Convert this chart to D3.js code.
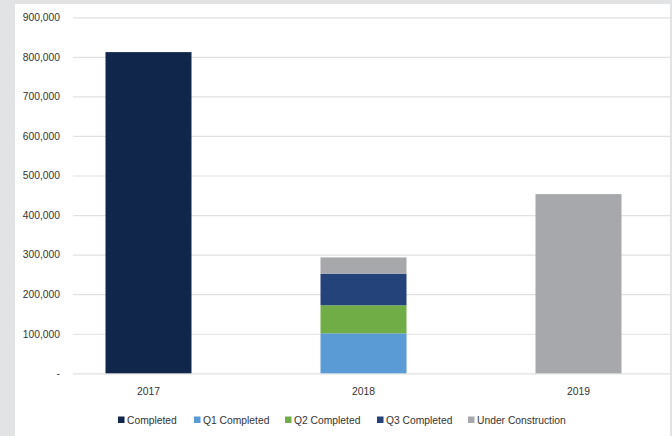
<!DOCTYPE html>
<html>
<head>
<meta charset="utf-8">
<script src="https://cdn.jsdelivr.net/npm/d3@7"></script>
<style>
  body { margin: 0; background: #e2e3e5; }
  svg { display: block; font-family: "Liberation Sans", Arial, sans-serif; }
</style>
</head>
<body>
<svg id="chart"></svg>
<script>
const years = ['2017', '2018', '2019']
const seriesNames = ['Completed', 'Q1 Completed', 'Q2 Completed', 'Q3 Completed', 'Under Construction']
const seriesColors = ['#10274b', '#5b9bd5', '#70ad47', '#23437a', '#a7a8ab']
// one array per series, values by year
const completed = [812000, 0, 0]
const q1Completed = [0, 101000, 0]
const q2Completed = [0, 71000, 0]
const q3Completed = [0, 80000, 0]
const underConstruction = [0, 41000, 453000]
const yTicks = [0, 100000, 200000, 300000, 400000, 500000, 600000, 700000, 800000, 900000]

let width = 672
let height = 436

let rows = years.map((y, i) => ({
  year: y,
  'Completed': completed[i],
  'Q1 Completed': q1Completed[i],
  'Q2 Completed': q2Completed[i],
  'Q3 Completed': q3Completed[i],
  'Under Construction': underConstruction[i]
}))

let stacked = d3.stack().keys(seriesNames)(rows)

let svg = d3.select('#chart')
    .attr('width', width)
    .attr('height', height)

// white chart panel on the grey page
svg.append('rect')
    .attr('x', 15).attr('y', 4)
    .attr('width', 655).attr('height', height - 4)
    .attr('fill', '#fff')

let yScale = d3.scaleLinear()
                .domain([0, 900000])
                .range([373.3, 17.3])

let xScale = d3.scalePoint()
                .domain(years)
                .range([41, 686])
                .padding(0.5)

let barWidth = xScale.step() * 0.4

let colorScale = d3.scaleOrdinal()
                    .domain(seriesNames)
                    .range(seriesColors)

// gridlines + y labels
let yAxis = svg.append('g')
    .attr('transform', 'translate(73,0)')
    .call(d3.axisLeft(yScale)
      .tickValues(yTicks)
      .tickSize(-597)
      .tickPadding(13)
      .tickFormat(d => d === 0 ? '-' : d3.format(',')(d)))

yAxis.select('.domain').remove()
yAxis.selectAll('line').attr('stroke', '#e1e1e1').attr('stroke-width', 1.2)
yAxis.selectAll('text')
    .attr('fill', '#333')
    .attr('font-size', 10.3)

// bars
svg.append('g')
  .selectAll('g')
  .data(stacked)
  .enter()
  .append('g')
    .attr('fill', d => colorScale(d.key))
  .selectAll('rect')
  .data(d => d.filter(s => s[1] > s[0]))
  .enter()
  .append('rect')
    .attr('x', d => xScale(d.data.year) - barWidth / 2)
    .attr('y', d => yScale(d[1]))
    .attr('width', barWidth)
    .attr('height', d => yScale(d[0]) - yScale(d[1]))

// x labels
svg.append('g')
  .selectAll('text')
  .data(years)
  .enter()
  .append('text')
    .attr('x', d => xScale(d))
    .attr('y', 395)
    .attr('text-anchor', 'middle')
    .attr('font-size', 10.3)
    .attr('fill', '#333')
    .text(d => d)

// legend
let legendX = [118, 194, 285, 377, 468]
let legend = svg.append('g')
  .selectAll('g')
  .data(seriesNames)
  .enter()
  .append('g')
    .attr('transform', (d, i) => `translate(${legendX[i]},420)`)

legend.append('rect')
    .attr('x', 0).attr('y', -3.5)
    .attr('width', 6.5).attr('height', 6.5)
    .attr('fill', d => colorScale(d))

legend.append('text')
    .attr('x', 9)
    .attr('y', 3.5)
    .attr('font-size', 10.3)
    .attr('fill', '#333')
    .text(d => d)
</script>
</body>
</html>
